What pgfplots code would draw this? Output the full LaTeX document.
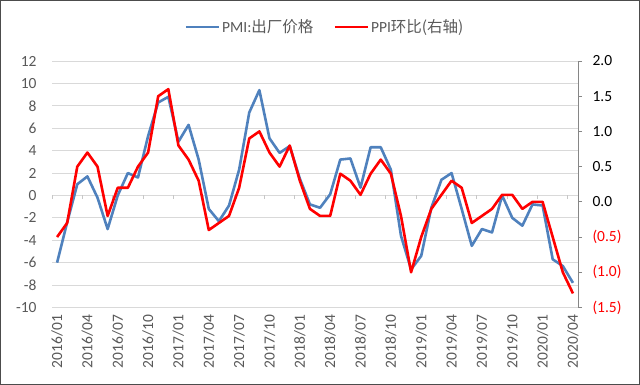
\documentclass[border=0pt]{standalone}
\usepackage{pgfplots}
\pgfplotsset{compat=1.18}
\usepackage{pgfplotstable}
\usepackage{fontspec}
\setmainfont{Carlito}
\newfontfamily\cjk{Noto Sans CJK SC}
\definecolor{pmiblue}{HTML}{4F81BD}
\definecolor{ppired}{HTML}{FF0000}
\definecolor{labgray}{HTML}{595959}
\definecolor{gridgray}{HTML}{D9D9D9}
\definecolor{axgray}{HTML}{868686}

\pgfplotstableread{
idx pmi ppi
0 -6.0 -0.5
1 -2.4 -0.3
2 1.0 0.5
3 1.7 0.7
4 -0.2 0.5
5 -3.0 -0.2
6 0.0 0.2
7 2.0 0.2
8 1.6 0.5
9 5.3 0.7
10 8.3 1.5
11 8.8 1.6
12 4.8 0.8
13 6.3 0.6
14 3.2 0.3
15 -1.2 -0.4
16 -2.3 -0.3
17 -0.9 -0.2
18 2.3 0.2
19 7.4 0.9
20 9.4 1.0
21 5.1 0.7
22 3.8 0.5
23 4.4 0.8
24 1.5 0.3
25 -0.8 -0.1
26 -1.1 -0.2
27 0.1 -0.2
28 3.2 0.4
29 3.3 0.3
30 0.7 0.1
31 4.3 0.4
32 4.3 0.6
33 2.3 0.4
34 -3.6 -0.2
35 -6.6 -1.0
36 -5.4 -0.5
37 -1.1 -0.1
38 1.4 0.1
39 2.0 0.3
40 -1.2 0.2
41 -4.5 -0.3
42 -3.0 -0.2
43 -3.3 -0.1
44 0.0 0.1
45 -2.0 0.1
46 -2.7 -0.1
47 -0.8 0.0
48 -0.9 0.0
49 -5.7 -0.5
50 -6.3 -1.0
51 -7.8 -1.3
}\data

\begin{document}
\begin{tikzpicture}[font=\fontsize{15.5}{18}\selectfont]
\path[use as bounding box] (0,0) rectangle (640pt,385pt);
\draw[color=black!70, line width=1pt] (0.5pt,0.5pt) rectangle (639.5pt,384.5pt);

\begin{axis}[
  at={(52pt,77.5pt)}, anchor=south west,
  scale only axis, width=526pt, height=246.5pt,
  xmin=-0.5, xmax=51.5, ymin=-10, ymax=12,
  ytick={-10,-8,...,12},
  xtick={0,3,...,51},
  xticklabels={2016/01,2016/04,2016/07,2016/10,2017/01,2017/04,2017/07,2017/10,2018/01,2018/04,2018/07,2018/10,2019/01,2019/04,2019/07,2019/10,2020/01,2020/04},
  axis line style={draw=none},
  major tick length=0pt,
  ymajorgrids,
  grid style={gridgray, line width=0.8pt},
  tick label style={text=labgray},
  xticklabel style={rotate=90, anchor=east},
  xticklabel shift=4pt,
  yticklabel style={xshift=-12pt},
  /pgf/number format/assume math mode=true,
  clip=false,
]
\pgfplotsinvokeforeach{-0.5,2.5,5.5,8.5,11.5,14.5,17.5,20.5,23.5,26.5,29.5,32.5,35.5,38.5,41.5,44.5,47.5,50.5}{
  \draw[gridgray!80!gray, line width=0.8pt] (axis cs:#1,0) -- ++(0pt,-4pt);
}
\addplot[pmiblue, line width=2.6pt, line join=round] table[x=idx,y=pmi]{\data};
\end{axis}

\begin{axis}[
  at={(52pt,77.5pt)}, anchor=south west,
  scale only axis, width=526pt, height=246.5pt,
  xmin=-0.5, xmax=51.5, ymin=-1.5, ymax=2,
  axis x line=none,
  axis y line*=right,
  y axis line style={color=axgray, line width=0.8pt},
  ytick={-1.5,-1,-0.5,0,0.5,1,1.5,2},
  yticklabels={{\textcolor{ppired}{(1.5)}},{\textcolor{ppired}{(1.0)}},{\textcolor{ppired}{(0.5)}},0.0,0.5,1.0,1.5,2.0},
  tick align=outside,
  major tick length=4pt,
  ytick style={color=axgray, line width=0.8pt},
  yticklabel style={xshift=7pt},
  legend style={at={(0.519,1.138)}, anchor=center, draw=none, fill=none,
    text=labgray, legend columns=2,
    /tikz/every even column/.append style={column sep=18pt}},
  legend image code/.code={\draw[#1] (0pt,0pt) -- (33pt,0pt);},
]
\addlegendimage{pmiblue, line width=2.6pt}
\addlegendentry{PMI:{\cjk 出厂价格}}
\addplot[ppired, line width=2.6pt, line join=round] table[x=idx,y=ppi]{\data};
\addlegendentry{PPI{\cjk 环比(右轴)}}
\end{axis}
\end{tikzpicture}
\end{document}
